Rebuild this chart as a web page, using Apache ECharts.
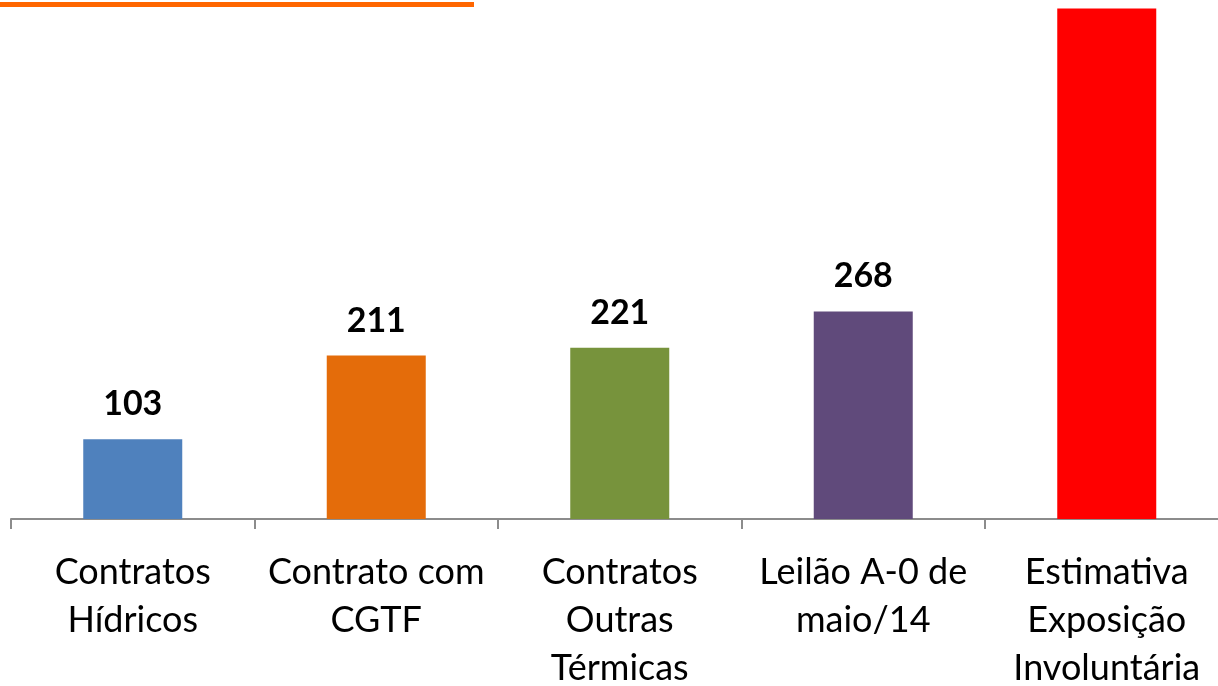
<!DOCTYPE html>
<html>
<head>
<meta charset="utf-8">
<script src="https://cdn.jsdelivr.net/npm/echarts@6/dist/echarts.min.js"></script>
<style>
html,body{margin:0;padding:0;background:#fff;}
#chart{width:1218px;height:686px;}
</style>
</head>
<body>
<div id="chart"></div>
<script>
// dados do gráfico
var categorias = ['Contratos\nHídricos', 'Contrato com\nCGTF', 'Contratos\nOutras\nTérmicas', 'Leilão A-0 de\nmaio/14', 'Estimativa\nExposição\nInvoluntária'];
var valores = [103, 211, 221, 268, 659];
var cores = ['#4F81BD', '#E46C0A', '#77933C', '#604A7B', '#FF0000'];
var mostrarRotulo = [true, true, true, true, false];

var dados = [];
for (var i = 0; i < valores.length; i++) {
	dados.push({
		value: valores[i],
		itemStyle: {color: cores[i]},
		label: {show: mostrarRotulo[i]}
	});
}

var option = {
	animation: false,
	grid: {left: 11, width: 1217.5, top: 0, height: 519, outerBoundsMode: 'none', containLabel: false},
	graphic: [{
		type: 'rect',
		shape: {x: 0, y: 2, width: 474, height: 5},
		style: {fill: '#FF6600'}
	}],
	xAxis: {
		type: 'category',
		data: categorias,
		axisLine: {lineStyle: {color: '#8C8C8C', width: 2}},
		axisTick: {show: true, length: 10, lineStyle: {color: '#8C8C8C', width: 2}},
		axisLabel: {
			interval: 0,
			margin: 29,
			color: '#000',
			fontFamily: 'Lato',
			fontSize: 36,
			lineHeight: 48
		}
	},
	yAxis: {
		type: 'value',
		min: 0,
		max: 670,
		show: false
	},
	series: [{
		type: 'bar',
		barWidth: 99,
		data: dados,
		label: {
			position: 'top',
			distance: 18,
			color: '#000',
			fontFamily: 'Lato',
			fontWeight: 'bold',
			fontSize: 34
		}
	}]
};
var myChart = echarts.init(document.getElementById('chart'));
myChart.setOption(option);
</script>
</body>
</html>
